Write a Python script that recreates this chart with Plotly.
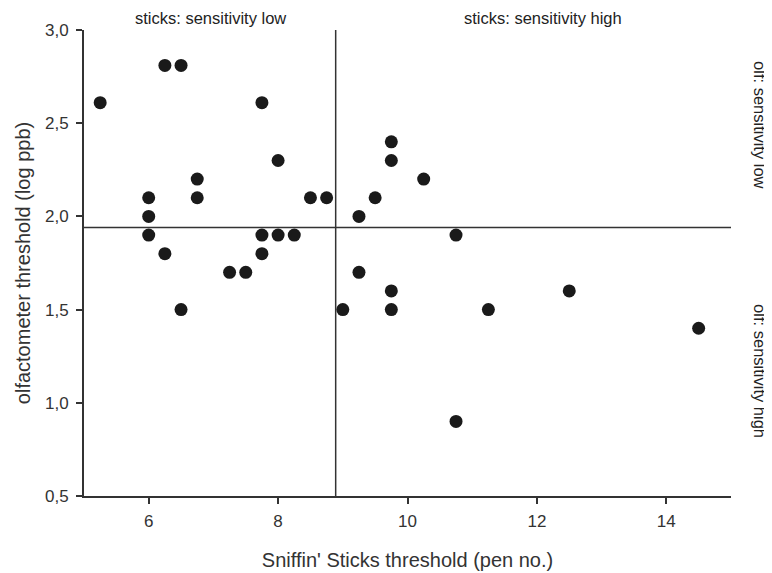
import plotly.graph_objects as go

# Data
sticks_threshold = [5.25, 6.25, 6.5, 7.75, 8.0, 6.75, 6.75, 6.0, 6.0, 6.0, 6.25, 6.5,
                    7.25, 7.5, 7.75, 7.75, 8.0, 8.25, 8.5, 8.75, 9.0, 9.75, 9.75,
                    10.25, 9.5, 9.25, 10.75, 9.25, 9.75, 12.5, 9.75, 11.25, 10.75, 14.5]
olf_threshold = [2.61, 2.81, 2.81, 2.61, 2.3, 2.2, 2.1, 2.1, 2.0, 1.9, 1.8, 1.5,
                 1.7, 1.7, 1.9, 1.8, 1.9, 1.9, 2.1, 2.1, 1.5, 2.4, 2.3,
                 2.2, 2.1, 2.0, 1.9, 1.7, 1.6, 1.6, 1.5, 1.5, 0.9, 1.4]
sticks_cutoff = 8.89
olf_cutoff = 1.94
x_range = [5, 15]
y_range = [0.5, 3.0]
x_ticks = [6, 8, 10, 12, 14]
y_ticks = [0.5, 1.0, 1.5, 2.0, 2.5, 3.0]

FONT = "Liberation Sans, Arial, sans-serif"
INK = "#1a1a1a"
LINE = "#333333"

fig = go.Figure()
fig.add_trace(go.Scatter(
    x=sticks_threshold, y=olf_threshold, mode="markers",
    marker=dict(size=13, color=INK, line=dict(width=0)),
    showlegend=False, hoverinfo="x+y",
))

# Cut-off lines
fig.add_shape(type="line", xref="x", yref="y", x0=x_range[0], x1=x_range[1],
              y0=olf_cutoff, y1=olf_cutoff, line=dict(color=LINE, width=1.5))
fig.add_shape(type="line", xref="x", yref="y", x0=sticks_cutoff, x1=sticks_cutoff,
              y0=y_range[0], y1=y_range[1], line=dict(color=LINE, width=1.5))

ann_font = dict(family=FONT, size=16.5, color="#222222")
fig.add_annotation(text="sticks: sensitivity low", xref="x", yref="paper",
                   x=6.95, y=1.0, yshift=1, xanchor="center", yanchor="bottom",
                   showarrow=False, font=ann_font)
fig.add_annotation(text="sticks: sensitivity high", xref="x", yref="paper",
                   x=12.1, y=1.0, yshift=1, xanchor="center", yanchor="bottom",
                   showarrow=False, font=ann_font)
fig.add_annotation(text="olf: sensitivity low", xref="paper", yref="y",
                   x=1.0, xshift=29, y=2.49,
                   textangle=90, xanchor="center", yanchor="middle",
                   showarrow=False, font=ann_font)
fig.add_annotation(text="olf: sensitivity high", xref="paper", yref="y",
                   x=1.0, xshift=29, y=1.17,
                   textangle=90, xanchor="center", yanchor="middle",
                   showarrow=False, font=ann_font)

axis_common = dict(
    showline=True, linecolor=LINE, linewidth=2, mirror=False,
    showgrid=False, zeroline=False, automargin=False,
    ticks="outside", ticklen=6, tickwidth=1.5, tickcolor=LINE,
    tickfont=dict(family=FONT, size=17, color="#333333"),
)

# The page body adds an 8px margin, so the figure is sized to fit inside it.
fig.update_layout(
    width=764, height=565,
    margin=dict(l=76, r=41, t=22, b=77),
    paper_bgcolor="white", plot_bgcolor="white",
    separators=",.",
    xaxis=dict(range=x_range, tickvals=x_ticks, ticklabelstandoff=3, **axis_common,
               title=dict(text="Sniffin' Sticks threshold (pen no.)",
                          font=dict(family=FONT, size=20, color="#333333"),
                          standoff=23)),
    yaxis=dict(range=y_range, tickvals=y_ticks, tickformat=".1f",
               ticklabelstandoff=4, **axis_common,
               title=dict(text="olfactometer threshold (log ppb)",
                          font=dict(family=FONT, size=20, color="#333333"),
                          standoff=9)),
)

fig.write_html("out.html")
